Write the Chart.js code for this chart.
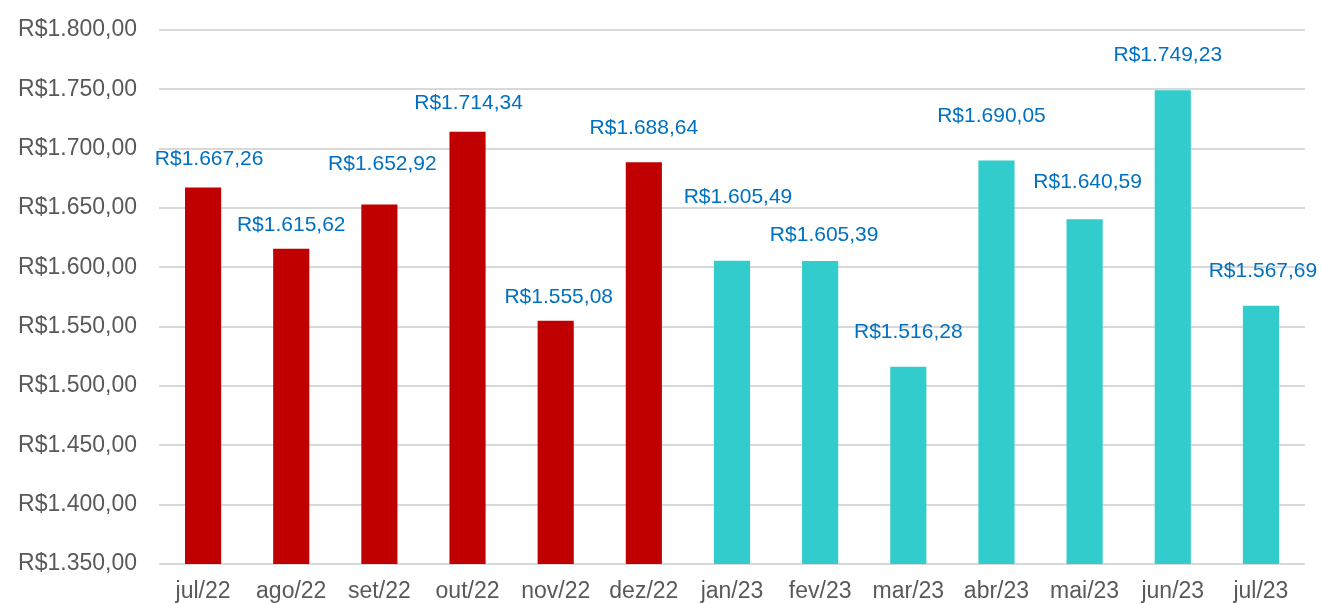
<!DOCTYPE html>
<html>
<head>
<meta charset="utf-8">
<script src="https://cdn.jsdelivr.net/npm/chart.js@4"></script>
<style>
  html, body { margin: 0; padding: 0; background: #fff; }
  #wrap { width: 1321px; height: 604px; }
</style>
</head>
<body>
<div id="wrap"><canvas id="chart"></canvas></div>
<script>
const months = ['jul/22', 'ago/22', 'set/22', 'out/22', 'nov/22', 'dez/22',
  'jan/23', 'fev/23', 'mar/23', 'abr/23', 'mai/23', 'jun/23', 'jul/23'];
const values = [1667.26, 1615.62, 1652.92, 1714.34, 1555.08, 1688.64,
  1605.49, 1605.39, 1516.28, 1690.05, 1640.59, 1749.23, 1567.69];
const yearOf = ['22', '22', '22', '22', '22', '22', '23', '23', '23', '23', '23', '23', '23'];

// nudges for the value labels, Excel places them a bit irregularly
const labelDy = [28, 24, 40, 28, 23, 34, 64, 26, 34, 44, 37, 35, 34];
const labelDx = [6, 0, 3, 1, 3, 0, 6, 4, 0, -5, 3, -5, 2];

const colors = { '22': '#C00000', '23': '#33CCCC' };
const FONT = '"Liberation Sans", Arial, sans-serif';

function brl(v) {
  const parts = v.toFixed(2).split('.');
  const int = parts[0].replace(/\B(?=(\d{3})+(?!\d))/g, '.');
  return 'R$' + int + ',' + parts[1];
}

const valueLabels = {
  id: 'valueLabels',
  afterDatasetsDraw(chart) {
    const ctx = chart.ctx;
    const meta = chart.getDatasetMeta(0);
    ctx.save();
    ctx.font = '21px ' + FONT;
    ctx.fillStyle = '#0070C0';
    ctx.textAlign = 'center';
    ctx.textBaseline = 'middle';
    meta.data.forEach((bar, i) => {
      ctx.fillText(brl(values[i]), bar.x + labelDx[i], bar.y - labelDy[i]);
    });
    ctx.restore();
  }
};

new Chart(document.getElementById('chart'), {
  type: 'bar',
  data: {
    labels: months,
    datasets: [{
      data: values,
      backgroundColor: yearOf.map(y => colors[y]),
      categoryPercentage: 1,
      barPercentage: 0.41
    }]
  },
  options: {
    responsive: true,
    maintainAspectRatio: false,
    animation: false,
    layout: { padding: { top: 30, right: 16, left: 0, bottom: 0 } },
    plugins: {
      legend: { display: false },
      tooltip: { enabled: false }
    },
    scales: {
      y: {
        min: 1350,
        max: 1800,
        ticks: {
          stepSize: 50,
          color: '#595959',
          font: { family: FONT, size: 23 },
          padding: 22,
          callback: v => brl(v)
        },
        grid: { color: '#D9D9D9', lineWidth: 2, drawTicks: false },
        border: { display: false },
        afterFit(scale) {
          scale.width = 159;
          scale.paddingTop = 0;
          scale.paddingBottom = 0;
        }
      },
      x: {
        ticks: {
          color: '#595959',
          font: { family: FONT, size: 23 },
          padding: 14,
          maxRotation: 0,
          autoSkip: false
        },
        grid: { display: false, drawTicks: false },
        border: { display: false },
        afterFit(scale) { scale.height = 40; }
      }
    }
  },
  plugins: [valueLabels]
});
</script>
</body>
</html>
